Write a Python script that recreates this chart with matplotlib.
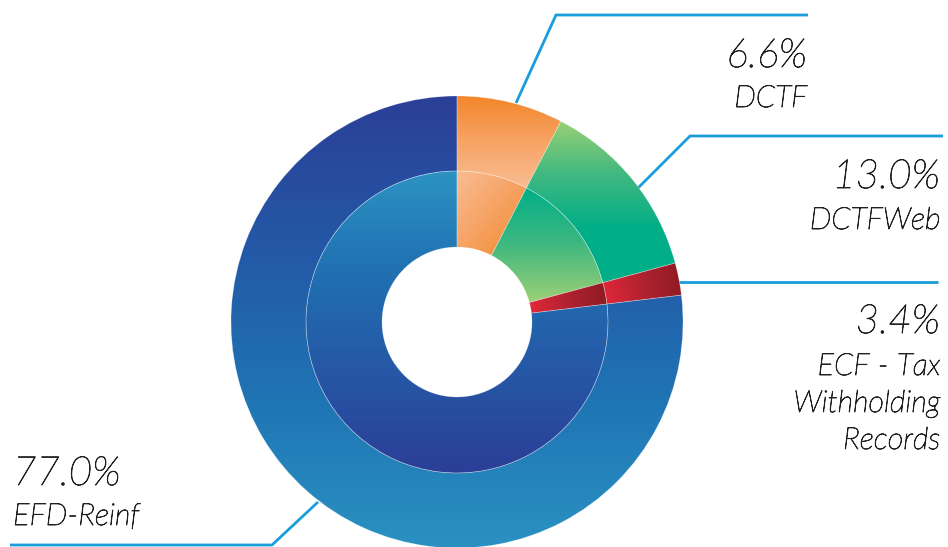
import numpy as np
import matplotlib
matplotlib.use("Agg")
import matplotlib.pyplot as plt
import matplotlib.patheffects as pe
from matplotlib.patches import Wedge
from matplotlib.colors import LinearSegmentedColormap

# ----------------------------- #
# dados
# ----------------------------- #
categorias = ["DCTF", "DCTFWeb", "ECF - Tax\nWithholding\nRecords", "EFD-Reinf"]
rotulos_pct = ["6.6%", "13.0%", "3.4%", "77.0%"]
# tamanho das fatias como desenhadas na figura
fatias = [7.6, 13.2, 2.3, 76.9]

# gradientes (cores, direcao em graus) anel externo / interno
grad_externo = [
    (["#f3862a", "#f7a465", "#f9bc92"], -90),
    (["#98d075", "#3fb880", "#00ae88", "#00ae88"], -90),
    (["#e32839", "#b02230", "#8d1a22"], 10),
    (["#2b3f98", "#2458a6", "#1f74b4", "#2a91c1"], -90),
]
grad_interno = [
    (["#f9bd93", "#f6a263", "#f28a2c"], -40),
    (["#00ae88", "#3fb880", "#9bd076"], -90),
    (["#e32839", "#b02230", "#8d1a22"], 10),
    (["#2c92c2", "#2070b2", "#2657a6", "#2b3f97"], -90),
]

W, H = 948, 547
cx, cy = 457, H - 322
r_ext, r_meio, r_furo = 226, 151, 75
azul_linha = "#1a9ddb"
cor_texto = "#231f20"


def Y(y):
    return H - y


def pinta_gradiente(ax, patch, cores, ang):
    ax.add_patch(patch)
    ext = patch.get_path().get_extents()
    x0, y0, x1, y1 = ext.x0, ext.y0, ext.x1, ext.y1
    xs = np.linspace(x0, x1, 200)
    ys = np.linspace(y0, y1, 200)
    X, Yg = np.meshgrid(xs, ys)
    dx, dy = np.cos(np.radians(ang)), np.sin(np.radians(ang))
    t = X * dx + Yg * dy
    t = (t - t.min()) / (t.max() - t.min())
    cmap = LinearSegmentedColormap.from_list("g", cores)
    im = ax.imshow(t, cmap=cmap, origin="lower", extent=[x0, x1, y0, y1],
                   interpolation="bilinear", aspect="auto", zorder=1)
    im.set_clip_path(patch)
    patch.set_facecolor("none")


fig = plt.figure(figsize=(W / 100, H / 100), dpi=100)
ax = fig.add_axes([0, 0, 1, 1])
ax.set_xlim(0, W)
ax.set_ylim(0, H)
ax.axis("off")

inicio = 90
for i, f in enumerate(fatias):
    fim = inicio - 360 * f / 100
    w_ext = Wedge((cx, cy), r_ext, fim, inicio, width=r_ext - r_meio)
    w_int = Wedge((cx, cy), r_meio, fim, inicio, width=r_meio - r_furo)
    pinta_gradiente(ax, w_ext, *grad_externo[i])
    pinta_gradiente(ax, w_int, *grad_interno[i])
    for w in (w_ext, w_int):
        borda = Wedge((cx, cy), w.r, fim, inicio, width=w.width,
                      facecolor="none", edgecolor="white", lw=0.5, alpha=0.3, zorder=2)
        ax.add_patch(borda)
    inicio = fim

# linhas de chamada
linhas = [
    [(516, 103), (556, 15), (808, 15)],
    [(638, 188), (690, 136), (943, 136)],
    [(679, 282), (938, 282)],
    [(318, 502), (272, 545), (10, 545)],
]
for pts in linhas:
    xs = [p[0] for p in pts]
    ys = [Y(p[1]) for p in pts]
    ax.plot(xs, ys, color=azul_linha, lw=2.0, solid_capstyle="butt",
            solid_joinstyle="miter", zorder=0)

# textos
contorno = [pe.withStroke(linewidth=0.6, foreground=cor_texto)]
fonte = dict(family="Lato", style="italic", weight="light", color=cor_texto,
             path_effects=contorno)
posicoes = [(807, 67, 107, "right"), (940, 188, 229, "right"),
            (940, 333, 375, "right"), (13, 485, 525, "left")]
for i, (x, y_pct, y_nome, ha) in enumerate(posicoes):
    ax.text(x, Y(y_pct), rotulos_pct[i], fontsize=29, ha=ha, va="baseline", **fonte)
    for j, linha in enumerate(categorias[i].split("\n")):
        ax.text(x, Y(y_nome + j * 37), linha, fontsize=22, ha=ha, va="baseline", **fonte)

fig.savefig("out.png", dpi=100)
